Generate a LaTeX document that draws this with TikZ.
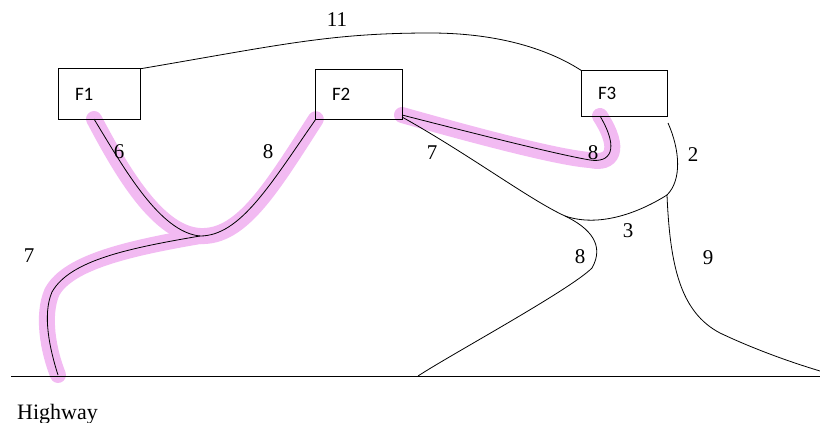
\documentclass[tikz,border=0pt]{standalone}
\usepackage{fontspec}
\setmainfont{Liberation Serif}
\newfontfamily\boxfont{Carlito}
\definecolor{hlpink}{RGB}{242,186,242}
\begin{document}
\begin{tikzpicture}[x=1pt,y=-1pt,
  fbox/.style={rectangle,inner xsep=16pt,inner ysep=0pt,align=left,font=\boxfont\fontsize{19}{22}\selectfont},
  boxline/.style={line width=0.8pt,black},
  road/.style={line width=0.8pt,black},
  hl/.style={line width=16pt,hlpink,line cap=round},
  num/.style={font=\fontsize{21}{24}\selectfont,inner sep=0pt}]
\useasboundingbox (0,0) rectangle (820,423);
% boxes (outlines drawn after the highlights)
\node[fbox,text width=49pt,minimum height=50pt] (F1) at (99.5,94) {F1};
\node[fbox,text width=54pt,minimum height=49pt] (F2) at (359,94.5) {F2};
\node[fbox,text width=53pt,minimum height=45pt] (F3) at (624.5,93.5) {F3};
% junctions and free ends
\coordinate (J1) at (200,236);
\coordinate (J2) at (565,216);
\coordinate (J3) at (667,195);
\coordinate (K7) at (52,292);
\coordinate (H7) at (58,375);
\coordinate (H8) at (418,376);
\coordinate (H9) at (820,371);
\coordinate (HL) at (11,376);
\coordinate (HR) at (820,376);
\coordinate (L2) at (668,123);
\coordinate (C9) at (720,333);
\coordinate (C8) at (590,160);
\coordinate (F2a) at (402,115);
\coordinate (F2b) at (402,117);
\coordinate (F1a) at (94,119);
\coordinate (F3a) at (600,116);
% highlights
\draw[hl] (F1a) .. controls (122,172) and (158,234) .. (J1);
\draw[hl] (F2.south west) .. controls (272,187) and (242,238) .. (J1);
\draw[hl] (J1) .. controls (130,248) and (68,262) .. (K7) .. controls (42,315) and (48,350) .. (H7);
\draw[hl] (F2a) .. controls (480,137) and (560,158) .. (C8) .. controls (612,165) and (622,150) .. (F3a);
% box outlines
\draw[boxline] (F1.south west) rectangle (F1.north east);
\draw[boxline] (F2.south west) rectangle (F2.north east);
\draw[boxline] (F3.south west) rectangle (F3.north east);
% connectors
\draw[road] (HL) -- (HR);
\draw[road] (F1.north east) .. controls (280,45) and (330,33) .. (430,33) .. controls (500,33) and (550,50) .. (F3.north west);
\draw[road] (F1a) .. controls (125,170) and (160,232) .. (J1);
\draw[road] (F2.south west) .. controls (270,185) and (240,236) .. (J1);
\draw[road] (J1) .. controls (130,248) and (70,260) .. (K7) .. controls (42,315) and (50,350) .. (H7);
\draw[road] (F2a) .. controls (480,135) and (560,155) .. (C8) .. controls (610,163) and (620,150) .. (F3a);
\draw[road] (F2b) .. controls (470,155) and (530,200) .. (J2) .. controls (590,228) and (605,245) .. (592,268) .. controls (570,290) and (450,355) .. (H8);
\draw[road] (J2) .. controls (600,228) and (640,212) .. (J3);
\draw[road] (L2) .. controls (680,150) and (682,180) .. (J3);
\draw[road] (J3) .. controls (670,265) and (680,312) .. (C9) .. controls (760,352) and (800,365) .. (H9);
% labels
\node[num] (n11) at (337,20) {11};
\node[num] (n6) at (119,152) {6};
\node[num] (n8a) at (268,152) {8};
\node[num] (n7a) at (29,256) {7};
\node[num] (n7b) at (432,153) {7};
\node[num] (n8b) at (593,153) {8};
\node[num] (n2) at (693,155) {2};
\node[num] (n3) at (628,231) {3};
\node[num] (n8c) at (580,257) {8};
\node[num] (n9) at (708,258) {9};
\node[anchor=base west,inner sep=0pt,font=\fontsize{22}{24}\selectfont] (hw) at (17,419) {Highway};
\end{tikzpicture}
\end{document}
